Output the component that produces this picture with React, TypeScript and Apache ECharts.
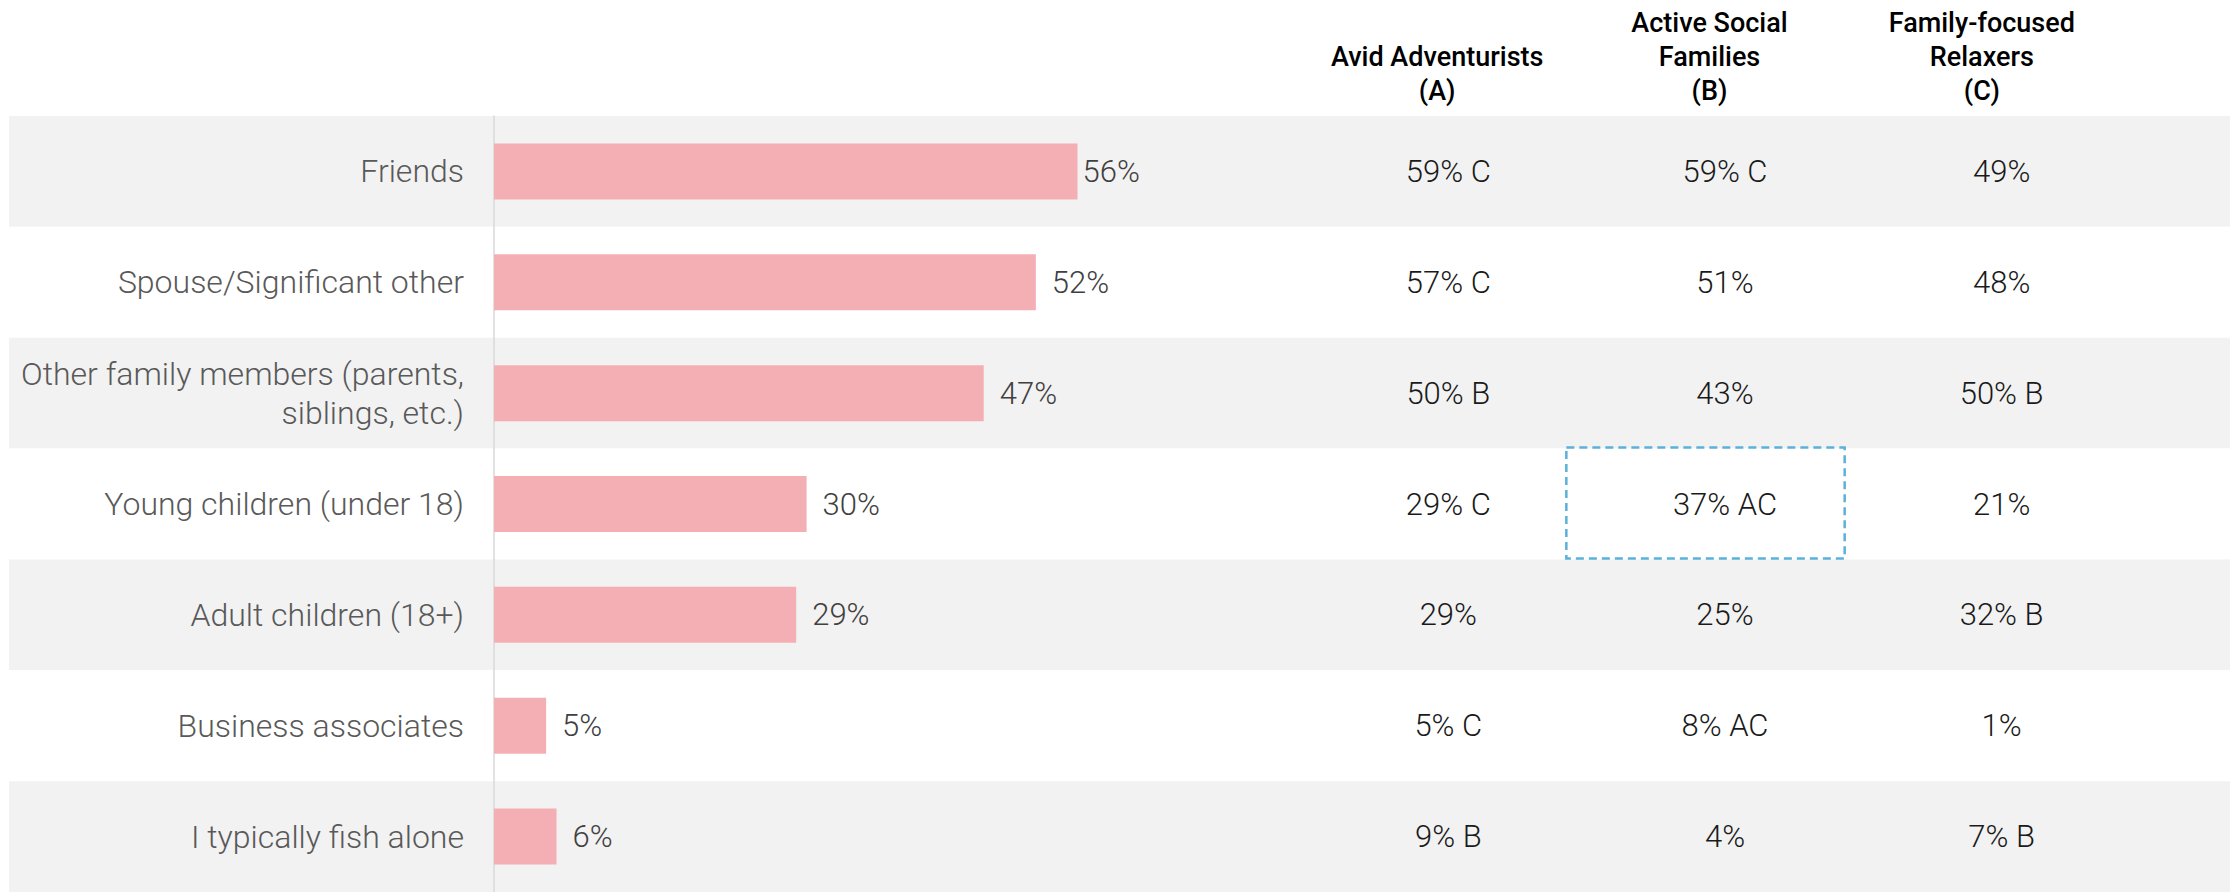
import React, { useEffect, useRef } from "react";
import * as echarts from "echarts";

const categories = [
  "Friends",
  "Spouse/Significant other",
  "Other family members (parents,\nsiblings, etc.)",
  "Young children (under 18)",
  "Adult children (18+)",
  "Business associates",
  "I typically fish alone",
];
const totalPct = [56, 52, 47, 30, 29, 5, 6];

const segmentNames = [
  "Avid Adventurists\n(A)",
  "Active Social\nFamilies\n(B)",
  "Family-focused\nRelaxers\n(C)",
];
const avidPct = [59, 57, 50, 29, 29, 5, 9];
const avidSig = ["C", "C", "B", "C", "", "C", "B"];
const activePct = [59, 51, 43, 37, 25, 8, 4];
const activeSig = ["C", "", "", "AC", "", "AC", ""];
const relaxPct = [49, 48, 50, 21, 32, 1, 7];
const relaxSig = ["", "", "B", "", "B", "", "B"];

// [column, row] of highlighted cells
const highlightCells = [[1, 3]];

const FONT = "Roboto";

export default function App() {
  const ref = useRef<HTMLDivElement>(null);

  useEffect(() => {
    if (!ref.current) return;
    const chart = echarts.init(ref.current, undefined, { renderer: "svg" });

    const pctCols = [avidPct, activePct, relaxPct];
    const sigCols = [avidSig, activeSig, relaxSig];
    const cellData: number[][] = [];
    const cellText: string[] = [];
    pctCols.forEach((col, c) => {
      col.forEach((v, r) => {
        cellData.push([c, r]);
        const sig = sigCols[c][r];
        cellText.push(`${v}%` + (sig ? ` ${sig}` : ""));
      });
    });

    const rowsHeight = 777;
    const top = 116;

    const catAxisBase = (gridIndex: number) => ({
      type: "category" as const,
      gridIndex,
      data: categories,
      inverse: true,
      axisLine: { show: false },
      axisTick: { show: false },
      axisLabel: { show: false },
      splitLine: { show: false },
    });

    const option: any = {
      animation: false,
      backgroundColor: "#ffffff",
      grid: [
        { left: 9, right: 0, top, height: rowsHeight },
        { left: 494, top, width: 1042, height: rowsHeight },
        { left: 1301, top, width: 817, height: rowsHeight },
        { left: 1310, top, width: 830, height: rowsHeight },
      ],
      xAxis: [
        { type: "value", gridIndex: 0, min: 0, max: 1, show: false },
        {
          type: "value",
          gridIndex: 1,
          min: 0,
          max: 100,
          show: false,
        },
        {
          type: "category",
          gridIndex: 2,
          data: segmentNames,
          position: "top",
          axisLine: { show: false },
          axisTick: { show: false },
          splitLine: { show: false },
          axisLabel: {
            interval: 0,
            margin: 8,
            fontFamily: FONT,
            fontSize: 27,
            fontWeight: 500,
            lineHeight: 34,
            color: "#000000",
            align: "center",
          },
        },
        {
          type: "category",
          gridIndex: 3,
          data: segmentNames,
          show: false,
        },
      ],
      yAxis: [
        {
          ...catAxisBase(0),
          z: 0,
          splitArea: {
            show: true,
            interval: 0,
            areaStyle: { color: ["#f2f2f2", "#ffffff"] },
          },
        },
        {
          type: "category",
          gridIndex: 1,
          data: categories,
          inverse: true,
          z: 3,
          axisLine: { show: true, lineStyle: { color: "#d9d9d9", width: 1.5 } },
          axisTick: { show: false },
          splitLine: { show: false },
          axisLabel: {
            interval: 0,
            margin: 30,
            fontFamily: FONT,
            fontSize: 32,
            fontWeight: 300,
            lineHeight: 39,
            color: "#595959",
            align: "right",
          },
        },
        catAxisBase(2),
        catAxisBase(3),
      ],
      series: [
        {
          type: "bar",
          xAxisIndex: 1,
          yAxisIndex: 1,
          barWidth: 56,
          itemStyle: { color: "#f4afb4" },
          z: 4,
          label: {
            show: true,
            position: "right",
            distance: 16,
            formatter: (p: any) => `${p.value}%`,
            fontFamily: FONT,
            fontSize: 31,
            fontWeight: 300,
            color: "#404040",
          },
          data: totalPct.map((v, i) =>
            i === 0 ? { value: v, label: { distance: 5 } } : v
          ),
        },
        {
          type: "custom",
          xAxisIndex: 2,
          yAxisIndex: 2,
          z: 5,
          data: highlightCells,
          renderItem: (params: any, api: any) => {
            const c = api.coord([api.value(0), api.value(1)]);
            const s = api.size([1, 1]);
            return {
              type: "rect",
              shape: {
                x: c[0] - s[0] / 2 - 7,
                y: c[1] - s[1] / 2 - 1,
                width: s[0] + 6,
                height: s[1],
              },
              style: {
                fill: "none",
                stroke: "#5ab1da",
                lineWidth: 2.5,
                lineDash: [8, 5],
              },
            };
          },
        },
        {
          type: "custom",
          xAxisIndex: 3,
          yAxisIndex: 3,
          z: 6,
          data: cellData,
          renderItem: (params: any, api: any) => {
            const c = api.coord([api.value(0), api.value(1)]);
            return {
              type: "text",
              x: c[0],
              y: c[1],
              style: {
                text: cellText[params.dataIndex],
                fill: "#1a1a1a",
                font: `300 31px ${FONT}`,
                align: "center",
                verticalAlign: "middle",
              },
            };
          },
        },
      ],
    };

    chart.setOption(option);
    return () => chart.dispose();
  }, []);

  return (
    <div
      ref={ref}
      style={{ position: "fixed", left: 0, top: 0, width: 2230, height: 892 }}
    />
  );
}
